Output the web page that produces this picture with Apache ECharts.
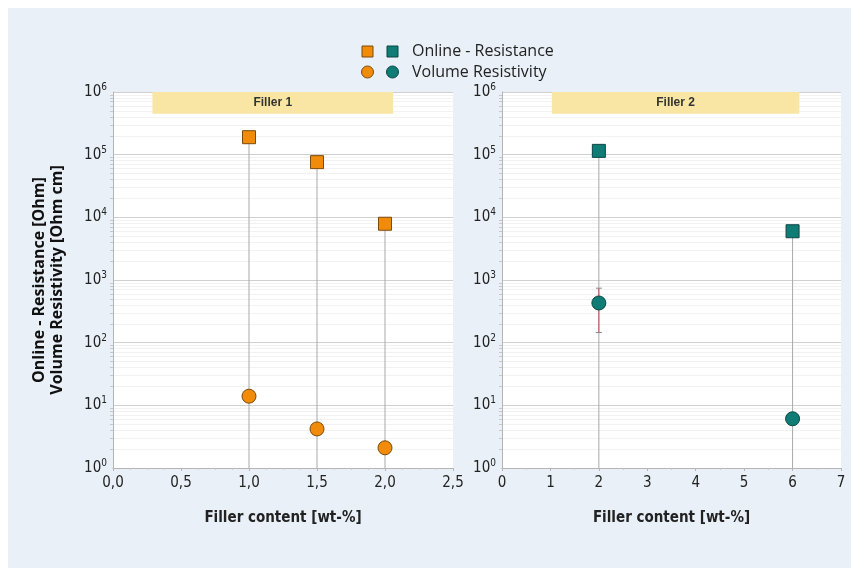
<!DOCTYPE html>
<html>
<head>
<meta charset="utf-8">
<script src="https://cdn.jsdelivr.net/npm/echarts@6/dist/echarts.min.js"></script>
<style>
  html, body { margin: 0; padding: 0; background: #fff; }
  #chart { width: 851px; height: 568px; }
</style>
</head>
<body>
<div id="chart"></div>
<script>
// Filler 1 (orange)
const filler1X = [1.0, 1.5, 2.0]
const filler1Resistance = [190000, 76000, 7900]
const filler1Resistivity = [14, 4.2, 2.1]

// Filler 2 (teal)
const filler2X = [2, 6]
const filler2Resistance = [115000, 6000]
const filler2Resistivity = [430, 6.1]
const filler2ResistivityLow = [145, 6.1]
const filler2ResistivityHigh = [740, 6.1]

const panelTitles = ['Filler 1', 'Filler 2']
const xTitle = 'Filler content [wt-%]'
const yTitle = 'Online - Resistance [Ohm]\nVolume Resistivity [Ohm cm]'

const ORANGE = '#f08c0a'
const ORANGE_EDGE = '#7d4a0c'
const TEAL = '#0f7c76'
const TEAL_EDGE = '#0a4644'
const FONT = "'Liberation Sans Narrow', 'DejaVu Sans Condensed', sans-serif"

const pairs = (xs, ys) => xs.map((x, i) => [x, ys[i]])

const chart = echarts.init(document.getElementById('chart'))

const yAxisBase = (idx) => ({
  type: 'log',
  logBase: 10,
  min: 1,
  max: 1000000,
  gridIndex: idx,
  axisLine: { show: true, lineStyle: { color: '#b5b5b5' } },
  axisTick: { show: false },
  minorTick: { show: true, splitNumber: 9, length: 3, lineStyle: { color: '#c8c8c8' } },
  splitLine: { show: true, lineStyle: { color: '#d0d0d0', width: 1 } },
  minorSplitLine: { show: true, lineStyle: { color: '#f2f2f2', width: 1 } },
  axisLabel: {
    color: '#222',
    fontFamily: FONT,
    fontSize: 15,
    margin: 6,
    formatter: (v) => '10{s|' + Math.round(Math.log10(v)) + '}',
    rich: { s: { fontSize: 10, fontFamily: FONT, color: '#222', verticalAlign: 'top', padding: [0, 0, 9, 0] } }
  }
})

// vertical drop line from a point down to the axis minimum
const dropLine = (params, api) => {
  const top = api.coord([api.value(0), api.value(1)])
  const bottom = api.coord([api.value(0), 1])
  return {
    type: 'line',
    shape: { x1: top[0], y1: top[1], x2: bottom[0], y2: bottom[1] },
    style: { stroke: '#a9a9a9', lineWidth: 1 }
  }
}

const errorBar = (params, api) => {
  const lo = api.coord([api.value(0), api.value(1)])
  const hi = api.coord([api.value(0), api.value(2)])
  return {
    type: 'group',
    children: [
      { type: 'line', shape: { x1: lo[0], y1: lo[1], x2: hi[0], y2: hi[1] }, style: { stroke: '#c0504d', lineWidth: 1 } },
      { type: 'line', shape: { x1: lo[0] - 3, y1: lo[1], x2: lo[0] + 3, y2: lo[1] }, style: { stroke: '#888', lineWidth: 1 } },
      { type: 'line', shape: { x1: hi[0] - 3, y1: hi[1], x2: hi[0] + 3, y2: hi[1] }, style: { stroke: '#888', lineWidth: 1 } }
    ]
  }
}

const headerBand = (title, x0, x1) => ({
  silent: true,
  itemStyle: { color: '#f9e6a4' },
  label: { show: true, position: 'inside', color: '#333', fontWeight: 'bold', fontSize: 12, fontFamily: 'Liberation Sans, sans-serif' },
  data: [[{ name: title, coord: [x0, 1000000] }, { coord: [x1, 450000] }]]
})

chart.setOption({
  backgroundColor: '#ffffff',
  animation: false,
  graphic: [
    { type: 'rect', z: -10, shape: { x: 8, y: 8, width: 843, height: 560 }, style: { fill: '#e9f0f8' } },
    // legend
    { type: 'rect', shape: { x: 362, y: 46, width: 11, height: 11 }, style: { fill: ORANGE, stroke: ORANGE_EDGE, lineWidth: 1 } },
    { type: 'rect', shape: { x: 387, y: 46, width: 11, height: 11 }, style: { fill: TEAL, stroke: TEAL_EDGE, lineWidth: 1 } },
    { type: 'text', x: 412, y: 51.5, style: { text: 'Online - Resistance', fill: '#222', font: "16px 'Open Sans', sans-serif", verticalAlign: 'middle' } },
    { type: 'circle', shape: { cx: 367.5, cy: 72, r: 6 }, style: { fill: ORANGE, stroke: ORANGE_EDGE, lineWidth: 1 } },
    { type: 'circle', shape: { cx: 392.5, cy: 72, r: 6 }, style: { fill: TEAL, stroke: TEAL_EDGE, lineWidth: 1 } },
    { type: 'text', x: 412, y: 72, style: { text: 'Volume Resistivity', fill: '#222', font: "16px 'Open Sans', sans-serif", verticalAlign: 'middle' } }
  ],
  grid: [
    { left: 113, right: 398, top: 92, bottom: 100, show: true, backgroundColor: '#ffffff', borderWidth: 0 },
    { left: 502, right: 10, top: 92, bottom: 100, show: true, backgroundColor: '#ffffff', borderWidth: 0 }
  ],
  xAxis: [
    {
      type: 'value', gridIndex: 0, min: 0, max: 2.5, interval: 0.5,
      name: xTitle, nameLocation: 'middle', nameGap: 43,
      nameTextStyle: { color: '#222', fontWeight: 'bold', fontSize: 15, fontFamily: FONT },
      axisLine: { show: true, onZero: false, lineStyle: { color: '#b5b5b5' } },
      axisTick: { show: true, length: 3, lineStyle: { color: '#b5b5b5' } },
      minorTick: { show: true, splitNumber: 4, length: 2, lineStyle: { color: '#cccccc' } },
      splitLine: { show: false },
      axisLabel: { color: '#222', fontFamily: FONT, fontSize: 15, margin: 8, formatter: (v) => v.toFixed(1).replace('.', ',') }
    },
    {
      type: 'value', gridIndex: 1, min: 0, max: 7, interval: 1,
      name: xTitle, nameLocation: 'middle', nameGap: 43,
      nameTextStyle: { color: '#222', fontWeight: 'bold', fontSize: 15, fontFamily: FONT },
      axisLine: { show: true, onZero: false, lineStyle: { color: '#b5b5b5' } },
      axisTick: { show: true, length: 3, lineStyle: { color: '#b5b5b5' } },
      minorTick: { show: true, splitNumber: 2, length: 2, lineStyle: { color: '#cccccc' } },
      splitLine: { show: false },
      axisLabel: { color: '#222', fontFamily: FONT, fontSize: 15, margin: 8 }
    }
  ],
  yAxis: [
    Object.assign(yAxisBase(0), {
      name: yTitle, nameLocation: 'middle', nameGap: 47, nameRotate: 90,
      nameTextStyle: { color: '#111', fontWeight: 'bold', fontSize: 16, lineHeight: 18, fontFamily: "'Open Sans', sans-serif" }
    }),
    yAxisBase(1)
  ],
  series: [
    { type: 'custom', xAxisIndex: 0, yAxisIndex: 0, renderItem: dropLine, data: pairs(filler1X, filler1Resistance), z: 1 },
    { type: 'custom', xAxisIndex: 1, yAxisIndex: 1, renderItem: dropLine, data: pairs(filler2X, filler2Resistance), z: 1 },
    {
      type: 'custom', xAxisIndex: 1, yAxisIndex: 1, renderItem: errorBar, z: 2,
      data: filler2X.map((x, i) => [x, filler2ResistivityLow[i], filler2ResistivityHigh[i]]).slice(0, 1)
    },
    {
      name: 'Online - Resistance', type: 'scatter', xAxisIndex: 0, yAxisIndex: 0, z: 5,
      symbol: 'rect', symbolSize: 13,
      itemStyle: { color: ORANGE, borderColor: ORANGE_EDGE, borderWidth: 1, opacity: 1 },
      data: pairs(filler1X, filler1Resistance),
      markArea: headerBand(panelTitles[0], 0.29, 2.06)
    },
    {
      name: 'Volume Resistivity', type: 'scatter', xAxisIndex: 0, yAxisIndex: 0, z: 5,
      symbol: 'circle', symbolSize: 14,
      itemStyle: { color: ORANGE, borderColor: ORANGE_EDGE, borderWidth: 1, opacity: 1 },
      data: pairs(filler1X, filler1Resistivity)
    },
    {
      name: 'Online - Resistance', type: 'scatter', xAxisIndex: 1, yAxisIndex: 1, z: 5,
      symbol: 'rect', symbolSize: 13,
      itemStyle: { color: TEAL, borderColor: TEAL_EDGE, borderWidth: 1, opacity: 1 },
      data: pairs(filler2X, filler2Resistance),
      markArea: headerBand(panelTitles[1], 1.03, 6.14)
    },
    {
      name: 'Volume Resistivity', type: 'scatter', xAxisIndex: 1, yAxisIndex: 1, z: 5,
      symbol: 'circle', symbolSize: 14,
      itemStyle: { color: TEAL, borderColor: TEAL_EDGE, borderWidth: 1, opacity: 1 },
      data: pairs(filler2X, filler2Resistivity)
    }
  ]
})
</script>
</body>
</html>
